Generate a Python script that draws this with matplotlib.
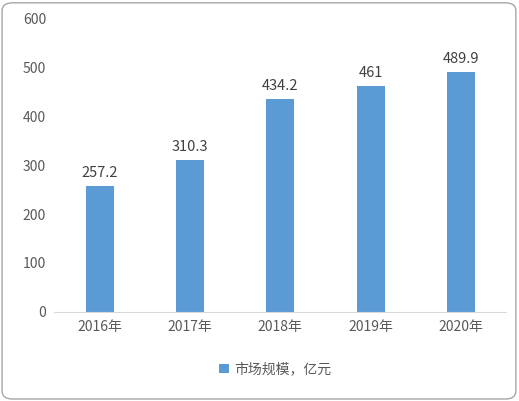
import matplotlib.pyplot as plt
from matplotlib.patches import FancyBboxPatch

plt.rcParams['font.family'] = ['Noto Sans CJK SC', 'DejaVu Sans']

years = ['2016年', '2017年', '2018年', '2019年', '2020年']
values = [257.2, 310.3, 434.2, 461, 489.9]
labels = ['257.2', '310.3', '434.2', '461', '489.9']

fig = plt.figure(figsize=(5.19, 4.01), dpi=100)
fig.patches.append(FancyBboxPatch((0.004, 0.005), 0.99, 0.988, boxstyle='round,pad=0,rounding_size=0.02',
                                  transform=fig.transFigure, fill=False, edgecolor='#a6a6a6', linewidth=1))
ax = fig.add_axes([0.105, 0.222, 0.87, 0.733])
x = range(len(years))
ax.bar(x, values, width=0.31, color='#5B9BD5', label='市场规模，亿元')
for xi, v, t in zip(x, values, labels):
    ax.text(xi, v + 12, t, ha='center', va='bottom', fontsize=10.5, color='#404040')
ax.set_ylim(0, 600)
ax.set_xlim(-0.5, 4.5)
ax.set_yticks(range(0, 601, 100))
ax.set_xticks(list(x))
ax.set_xticklabels(years)
ax.tick_params(length=0, labelsize=10, colors='#595959', pad=6)
for s in ['top', 'right', 'left']:
    ax.spines[s].set_visible(False)
ax.spines['bottom'].set_color('#d9d9d9')
fig.legend(loc='lower center', bbox_to_anchor=(0.53, 0.03), frameon=False, fontsize=10,
           handlelength=0.7, handleheight=0.7, handletextpad=0.4, labelcolor='#595959')
fig.savefig('out.png')
